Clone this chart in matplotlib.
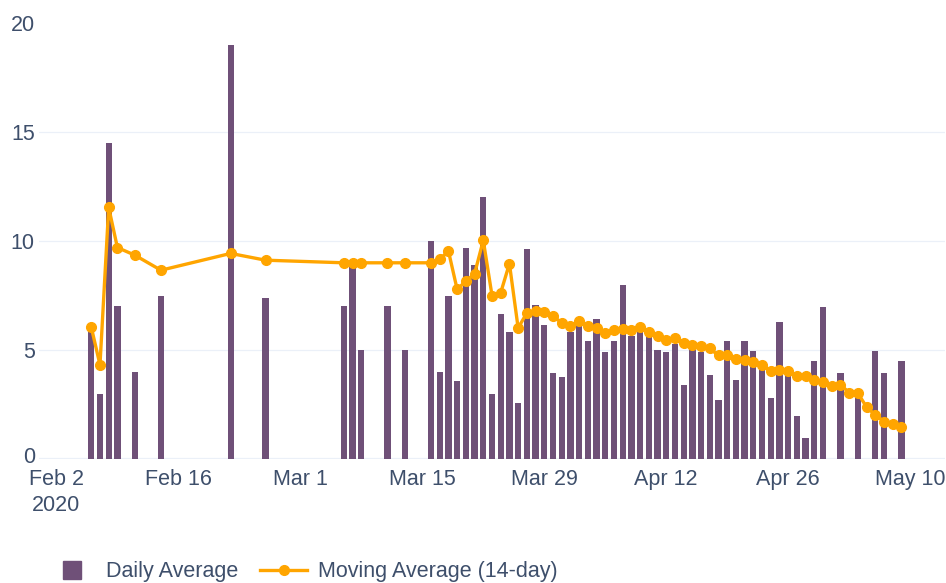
import pandas as pd
import matplotlib
matplotlib.use("Agg")
import matplotlib.pyplot as plt
import matplotlib.transforms as mtransforms
from matplotlib.lines import Line2D

plt.rcParams['font.family'] = ['Liberation Sans', 'DejaVu Sans']

# daily average bars
bar_dates = ['2020-02-06', '2020-02-07', '2020-02-08', '2020-02-09', '2020-02-11', '2020-02-14',
             '2020-02-22', '2020-02-26', '2020-03-06', '2020-03-07', '2020-03-08', '2020-03-11',
             '2020-03-13', '2020-03-16', '2020-03-17', '2020-03-18', '2020-03-19', '2020-03-20',
             '2020-03-21', '2020-03-22', '2020-03-23', '2020-03-24', '2020-03-25', '2020-03-26',
             '2020-03-27', '2020-03-28', '2020-03-29', '2020-03-30', '2020-03-31', '2020-04-01',
             '2020-04-02', '2020-04-03', '2020-04-04', '2020-04-05', '2020-04-06', '2020-04-07',
             '2020-04-08', '2020-04-09', '2020-04-10', '2020-04-11', '2020-04-12', '2020-04-13',
             '2020-04-14', '2020-04-15', '2020-04-16', '2020-04-17', '2020-04-18', '2020-04-19',
             '2020-04-20', '2020-04-21', '2020-04-22', '2020-04-23', '2020-04-24', '2020-04-25',
             '2020-04-26', '2020-04-27', '2020-04-28', '2020-04-29', '2020-04-30', '2020-05-02',
             '2020-05-04', '2020-05-06', '2020-05-07', '2020-05-09']
bar_values = [6.0, 3.0, 14.5, 7.0, 4.0, 7.5,
              19.0, 7.4, 7.0, 8.8, 5.0, 7.0,
              5.0, 10.0, 4.0, 7.5, 3.6, 9.66,
              8.9, 12.0, 3.0, 6.65, 5.82, 2.57,
              9.65, 7.08, 6.14, 3.96, 3.74, 5.83,
              6.09, 5.41, 6.43, 4.9, 5.41, 7.98,
              5.64, 5.83, 5.64, 4.98, 4.9, 5.28,
              3.38, 5.1, 4.9, 3.87, 2.72, 5.43,
              3.63, 5.43, 4.97, 4.43, 2.79, 6.29,
              4.17, 1.98, 0.95, 4.48, 6.96, 3.94,
              3.1, 4.97, 3.94, 4.48]

# 14-day moving average
ma_dates = ['2020-02-06', '2020-02-07', '2020-02-08', '2020-02-09', '2020-02-11', '2020-02-14',
            '2020-02-22', '2020-02-26', '2020-03-06', '2020-03-07', '2020-03-08', '2020-03-11',
            '2020-03-13', '2020-03-16', '2020-03-17', '2020-03-18', '2020-03-19', '2020-03-20',
            '2020-03-21', '2020-03-22', '2020-03-23', '2020-03-24', '2020-03-25', '2020-03-26',
            '2020-03-27', '2020-03-28', '2020-03-29', '2020-03-30', '2020-03-31', '2020-04-01',
            '2020-04-02', '2020-04-03', '2020-04-04', '2020-04-05', '2020-04-06', '2020-04-07',
            '2020-04-08', '2020-04-09', '2020-04-10', '2020-04-11', '2020-04-12', '2020-04-13',
            '2020-04-14', '2020-04-15', '2020-04-16', '2020-04-17', '2020-04-18', '2020-04-19',
            '2020-04-20', '2020-04-21', '2020-04-22', '2020-04-23', '2020-04-24', '2020-04-25',
            '2020-04-26', '2020-04-27', '2020-04-28', '2020-04-29', '2020-04-30', '2020-05-01',
            '2020-05-02', '2020-05-03', '2020-05-04', '2020-05-05', '2020-05-06', '2020-05-07',
            '2020-05-08', '2020-05-09']
ma_values = [6.05, 4.32, 11.54, 9.7, 9.35, 8.66,
             9.43, 9.12, 9.0, 9.0, 9.0, 9.0,
             9.0, 9.0, 9.16, 9.54, 7.78, 8.16,
             8.5, 10.03, 7.5, 7.63, 8.96, 6.01,
             6.7, 6.78, 6.75, 6.55, 6.25, 6.09,
             6.32, 6.09, 6.02, 5.79, 5.9, 5.97,
             5.94, 6.06, 5.82, 5.64, 5.48, 5.53,
             5.33, 5.25, 5.18, 5.07, 4.75, 4.77,
             4.6, 4.52, 4.45, 4.29, 4.05, 4.06,
             4.02, 3.79, 3.79, 3.63, 3.51, 3.33,
             3.4, 3.05, 3.02, 2.38, 2.02, 1.72,
             1.61, 1.46]

tick_dates = ['2020-02-02', '2020-02-16', '2020-03-01', '2020-03-15',
              '2020-03-29', '2020-04-12', '2020-04-26', '2020-05-10']
tick_labels = ['Feb 2\n2020', 'Feb 16', 'Mar 1', 'Mar 15', 'Mar 29', 'Apr 12', 'Apr 26', 'May 10']

bar_color = '#6f5078'
line_color = '#FFA500'
text_color = '#3e4f6b'
grid_color = '#EBF0F8'

fig = plt.figure(figsize=(9.46, 5.83), dpi=100)
ax = fig.add_axes([39 / 946, 1 - 459 / 583, 906 / 946, 436 / 583])

ax.bar(pd.to_datetime(bar_dates), bar_values, width=0.72, color=bar_color, zorder=2)
ax.plot(pd.to_datetime(ma_dates), ma_values, color=line_color, lw=2.4,
        marker='o', markersize=7, zorder=3)

ax.set_xlim(pd.Timestamp('2020-01-31'), pd.Timestamp('2020-05-14'))
ax.set_ylim(0, 20)
ax.set_yticks([0, 5, 10, 15, 20])
ax.set_xticks(pd.to_datetime(tick_dates))
ax.set_xticklabels(tick_labels)

for s in ax.spines.values():
    s.set_visible(False)
ax.tick_params(length=0, labelsize=15.5, colors=text_color)
ax.tick_params(axis='y', pad=3)
ax.tick_params(axis='x', pad=7)
for lab in ax.get_xticklabels():
    lab.set_linespacing(1.3)

# nudge the "0" label up so it sits just above "Feb 2"
zero_lab = ax.get_yticklabels()[0]
zero_lab.set_transform(zero_lab.get_transform() +
                       mtransforms.ScaledTranslation(0, 4 / 100, fig.dpi_scale_trans))

for y in [5, 10, 15]:
    ax.axhline(y, color=grid_color, lw=0.9, zorder=0)
ax.axhline(0, color=grid_color, lw=1.6, zorder=1)

handles = [Line2D([], [], marker='s', ls='none', markersize=13.5, color=bar_color),
           Line2D([], [], color=line_color, lw=2.4, marker='o', markersize=7)]
fig.legend(handles, ['Daily Average', 'Moving Average (14-day)'], loc='center left',
           bbox_to_anchor=(48 / 946, 11 / 583), ncol=2, frameon=False, fontsize=15.5,
           labelcolor=text_color, handlelength=2.2, handletextpad=0.5, columnspacing=1.0,
           borderpad=0, borderaxespad=0)

fig.savefig('out.png', dpi=100)
